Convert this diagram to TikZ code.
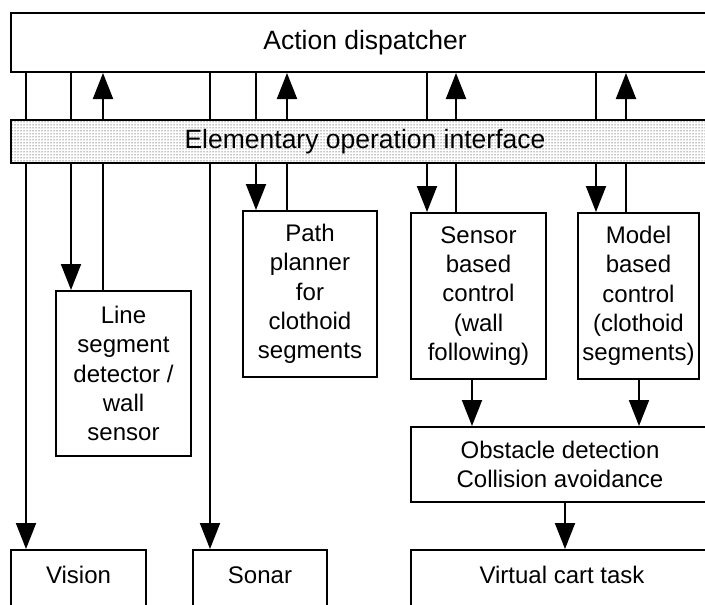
\documentclass[tikz,border=0pt]{standalone}
\usepackage{fontspec}
\setmainfont{Liberation Sans}
\usetikzlibrary{arrows.meta,patterns}
\begin{document}
\begin{tikzpicture}[x=1pt,y=-1pt,
  box/.style={draw=black,line width=2pt,fill=white,inner sep=0pt,align=center,
    font=\fontsize{24}{29.3}\selectfont},
  bigbox/.style={draw=black,line width=2pt,inner sep=0pt,
    font=\fontsize{26.5}{30}\selectfont},
  bottombox/.style={box,anchor=base,text height=33.5pt,text depth=50pt},
  link/.style={line width=2pt},
  arr/.style={line width=2pt,-{Triangle[width=20pt,length=26pt]}}]
\fill[white] (0,0) rectangle (705,605);
\useasboundingbox (0,0) rectangle (705,605);
\clip (0,0) rectangle (705,605);

% top layers
\node[bigbox,fill=white,minimum width=708pt,minimum height=59pt] (disp) at (365,42.5) {Action dispatcher};
\node[bigbox,fill=white,minimum width=708pt,minimum height=43pt] (ifaceback) at (365,141.5) {};
\node[bigbox,pattern=dots,pattern color=black,minimum width=708pt,minimum height=43pt] (iface) at (365,141.5) {Elementary operation interface};

% modules
\node[box,minimum width=135pt,minimum height=165pt] (lseg) at (123.5,373.5) {Line\\segment\\detector /\\wall\\sensor};
\node[box,minimum width=134pt,minimum height=166pt] (path) at (310,294) {Path\\planner\\for\\clothoid\\segments};
\node[box,minimum width=135pt,minimum height=166pt] (sens) at (478.5,296) {Sensor\\based\\control\\(wall\\following)};
\node[box,minimum width=121pt,minimum height=166pt] (model) at (638.5,296) {Model\\based\\control\\(clothoid\\segments)};
\node[box,minimum width=298pt,minimum height=75pt] (obst) at (560,464.5) {Obstacle detection\\Collision avoidance};

% bottom row
\node[bottombox,minimum width=135pt] (vision) at (78.5,583.5) {Vision};
\node[bottombox,minimum width=134pt] (sonar) at (260,583.5) {Sonar};
\node[bottombox,minimum width=302pt] (cart) at (562,583.5) {Virtual cart task};

% connector columns
\coordinate (c1) at (26,0);
\coordinate (c2) at (71,0);
\coordinate (c3) at (103,0);
\coordinate (c4) at (210,0);
\coordinate (c5) at (256,0);
\coordinate (c6) at (287,0);
\coordinate (c7) at (427,0);
\coordinate (c8) at (456,0);
\coordinate (c9) at (596,0);
\coordinate (c10) at (626,0);
\coordinate (c11) at (472,0);
\coordinate (c12) at (639,0);
\coordinate (c13) at (565,0);

% dispatcher <-> interface
\foreach \c in {c1,c2,c4,c5,c7,c9}
  \draw[link] (disp.south -| \c) -- (iface.north -| \c);
\foreach \c in {c3,c6,c8,c10}
  \draw[arr] (iface.north -| \c) -- (disp.south -| \c);

% interface -> modules
\draw[arr] (iface.south -| c1) -- (vision.north -| c1);
\draw[arr] (iface.south -| c2) -- (lseg.north -| c2);
\draw[link] (lseg.north -| c3) -- (iface.south -| c3);
\draw[arr] (iface.south -| c4) -- (sonar.north -| c4);
\draw[arr] (iface.south -| c5) -- (path.north -| c5);
\draw[link] (path.north -| c6) -- (iface.south -| c6);
\draw[arr] (iface.south -| c7) -- (sens.north -| c7);
\draw[link] (sens.north -| c8) -- (iface.south -| c8);
\draw[arr] (iface.south -| c9) -- (model.north -| c9);
\draw[link] (model.north -| c10) -- (iface.south -| c10);

% control -> obstacle handling -> cart
\draw[arr] (sens.south -| c11) -- (obst.north -| c11);
\draw[arr] (model.south -| c12) -- (obst.north -| c12);
\draw[arr] (obst.south -| c13) -- (cart.north -| c13);
\end{tikzpicture}
\end{document}
